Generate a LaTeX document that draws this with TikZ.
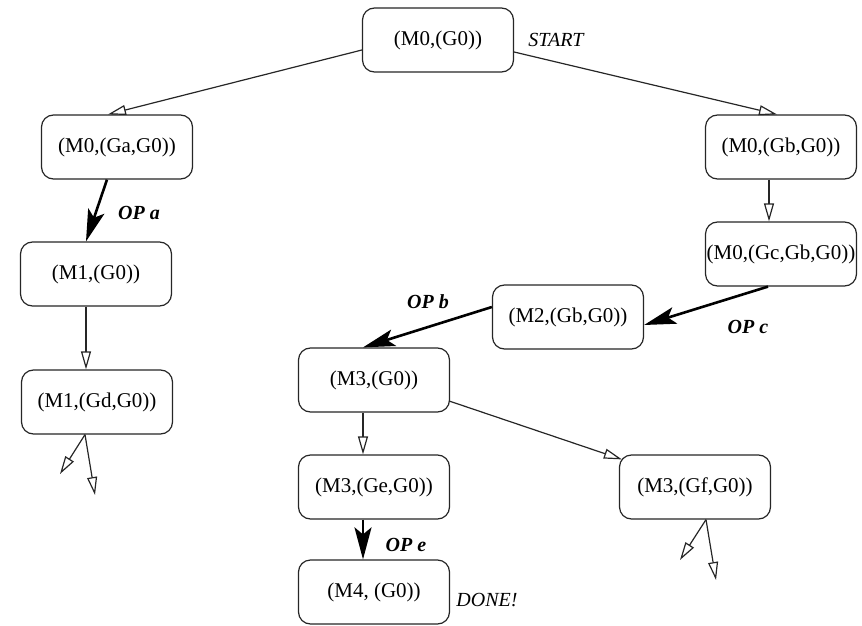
\documentclass[tikz,border=0pt]{standalone}
\usepackage{fontspec}
\setmainfont{Liberation Serif}
\usetikzlibrary{arrows.meta,calc}
\begin{document}
\begin{tikzpicture}[x=1pt,y=-1pt,
  state/.style={draw=black!85, line width=1.2pt, rounded corners=12pt, fill=white,
    minimum width=151pt, minimum height=64pt, inner sep=0pt,
    font=\fontsize{21}{25}\selectfont},
  goal/.style={draw=black!85, line width=1.2pt,
    -{Triangle[open,length=18pt,width=10pt,line width=1.2pt]}},
  op/.style={draw=black, line width=2.6pt,
    -{Stealth[length=32pt,width=17pt,inset=7pt]}},
  lbl/.style={font=\fontsize{20}{24}\selectfont\bfseries\itshape, inner sep=0pt},
  note/.style={font=\fontsize{20}{24}\selectfont\itshape, inner sep=0pt}]
\useasboundingbox (0,0) rectangle (862,626);

\node[state] (n0) at (438,40) {(M0,(G0))};
\node[state] (na) at (117,147) {(M0,(Ga,G0))};
\node[state] (n1) at (96,274) {(M1,(G0))};
\node[state] (nd) at (97,402) {(M1,(Gd,G0))};
\node[state] (nb) at (781,147) {(M0,(Gb,G0))};
\node[state] (nc) at (781,254) {(M0,(Gc,Gb,G0))};
\node[state] (n2) at (568,317) {(M2,(Gb,G0))};
\node[state] (n3) at (374,380) {(M3,(G0))};
\node[state] (ne) at (374,487) {(M3,(Ge,G0))};
\node[state] (n4) at (374,592) {(M4, (G0))};
\node[state] (nf) at (695,487) {(M3,(Gf,G0))};

\node[note] (start) at (556,40) {START};
\node[note] (done) at (487,600) {DONE!};
\node[lbl] (opa) at (139,213) {OP a};
\node[lbl] (opb) at (428,302) {OP b};
\node[lbl] (opc) at (748,327) {OP c};
\node[lbl] (ope) at (406,545) {OP e};

\coordinate (d1) at (60,474);
\coordinate (d2) at (95,495);
\coordinate (f1) at (680,560);
\coordinate (f2) at (716,580);

\draw[goal] ($(n0.west)+(0,10)$) -- ($(na.north)+(-9,0)$);
\draw[goal] ($(n0.east)+(0,12)$) -- ($(nb.north)+(-4,0)$);
\draw[op] ($(na.south)+(-10,0)$) -- ($(n1.north)+(-10,0)$);
\draw[goal] ($(n1.south)+(-10,0)$) -- ($(nd.north)+(-11,0)$);
\draw[goal] ($(nd.south)+(-12,0)$) -- (d1);
\draw[goal] ($(nd.south)+(-12,0)$) -- (d2);
\draw[goal] ($(nb.south)+(-12,0)$) -- ($(nc.north)+(-12,0)$);
\draw[op] ($(nc.south)+(-13,0)$) -- ($(n2.east)+(0,8)$);
\draw[op] ($(n2.west)+(0,-10)$) -- ($(n3.north)+(-11,0)$);
\draw[goal] ($(n3.south)+(-11,0)$) -- ($(ne.north)+(-11,0)$);
\draw[goal] ($(n3.east)+(-1,21)$) -- ($(nf.north west)+(3,5)$);
\draw[op] ($(ne.south)+(-11,0)$) -- ($(n4.north)+(-11,0)$);
\draw[goal] ($(nf.south)+(11,0)$) -- (f1);
\draw[goal] ($(nf.south)+(11,0)$) -- (f2);
\end{tikzpicture}
\end{document}
